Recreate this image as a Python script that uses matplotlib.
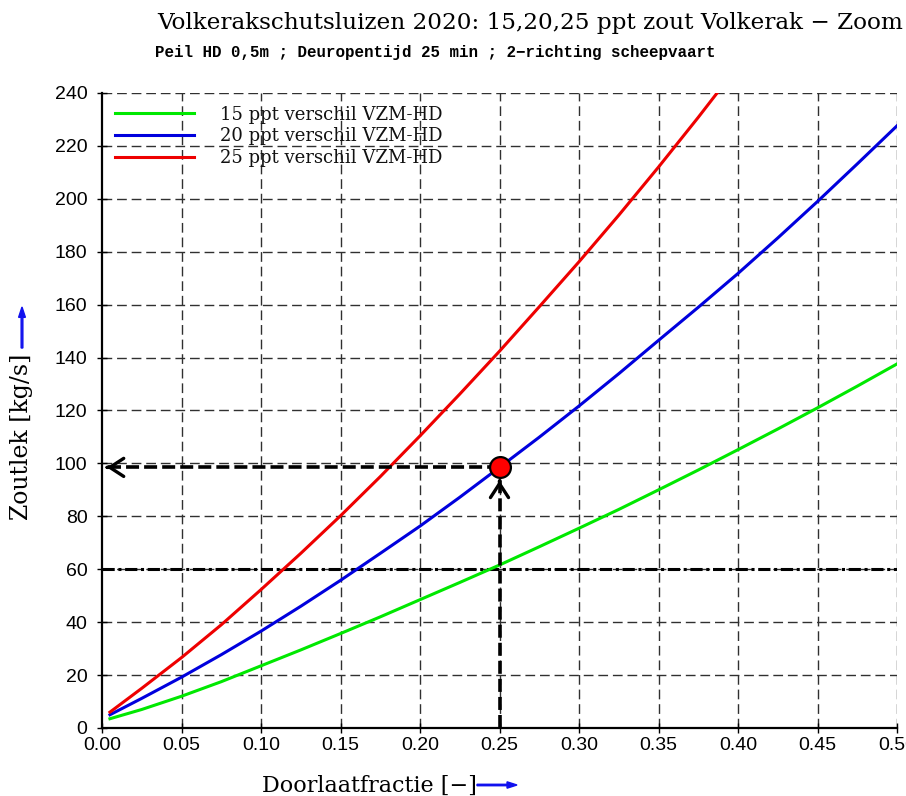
import matplotlib
matplotlib.use("Agg")
import matplotlib.pyplot as plt
from matplotlib.patches import FancyArrow

# Doorlaatfractie samples and salt leakage per salinity difference
fractie = [0.005, 0.025, 0.05, 0.075, 0.10, 0.125, 0.15, 0.175, 0.20, 0.225,
           0.25, 0.275, 0.30, 0.325, 0.35, 0.375, 0.40, 0.425, 0.45, 0.475, 0.50]
lek_15 = [3.5, 7.0, 12.0, 17.5, 23.5, 29.5, 35.7, 42.0, 48.5, 55.0,
          61.6, 68.5, 75.5, 82.6, 90.0, 97.5, 105.2, 113.0, 121.0, 129.2, 137.6]
lek_20 = [5.0, 11.2, 19.2, 27.7, 36.6, 46.0, 55.8, 66.0, 76.3, 87.2,
          98.5, 109.9, 121.7, 133.9, 146.5, 159.0, 171.8, 185.2, 199.0, 213.2, 227.6]
lek_25 = [6.0, 15.0, 26.6, 39.0, 52.3, 66.0, 80.2, 95.0, 110.4, 126.2,
          142.4, 159.2, 176.2, 193.8, 212.0, 230.8, 250.2]
series_labels = ["15 ppt verschil VZM-HD", "20 ppt verschil VZM-HD", "25 ppt verschil VZM-HD"]
series_colors = ["#00e800", "#0000dd", "#ee0000"]

# Working point and norm line
punt_x, punt_y = 0.25, 98.5
norm_lek = 60

x_ticks = [0.00, 0.05, 0.10, 0.15, 0.20, 0.25, 0.30, 0.35, 0.40, 0.45, 0.50]
y_ticks = [0, 20, 40, 60, 80, 100, 120, 140, 160, 180, 200, 220, 240]

title = "Volkerakschutsluizen 2020: 15,20,25 ppt zout Volkerak \u2212 Zoom"
subtitle = "Peil HD 0,5m ; Deuropentijd 25 min ; 2\u2212richting scheepvaart"

serif = "DejaVu Serif"
tick_font = dict(family="Liberation Sans", size=14)

fig = plt.figure(figsize=(9.06, 7.96), dpi=100)
ax = fig.add_axes([102 / 906, 1 - 728 / 796, 795 / 906, 635 / 796])

ax.set_xlim(0, 0.5)
ax.set_ylim(0, 240)

# dashed grid, also forming the top and right frame
grid_style = dict(color="#303030", lw=1.0, linestyle=(0, (7, 3.5)), zorder=1)
for xv in x_ticks[1:]:
    ax.axvline(xv, **grid_style)
for yv in y_ticks[1:]:
    ax.axhline(yv, **grid_style)

for vals, lab, col in zip([lek_15, lek_20, lek_25], series_labels, series_colors):
    ax.plot(fractie[:len(vals)], vals, color=col, lw=2.2, label=lab, zorder=4)

# norm line at 60 kg/s
ax.axhline(norm_lek, color="black", lw=2.2, linestyle=(0, (4, 1.2, 1, 1.2)), zorder=3)

# read-off lines from the working point
dash_bold = dict(color="black", lw=2.6, linestyle=(0, (3.6, 1.4)), zorder=5)
ax.plot([0.004, punt_x], [punt_y, punt_y], **dash_bold)
ax.plot([punt_x, punt_x], [0, punt_y], **dash_bold)
head = dict(arrowstyle="->,head_length=1.0,head_width=0.65", color="black", lw=2.4,
            shrinkA=0, shrinkB=0)
ax.annotate("", xy=(0.003, punt_y), xytext=(0.0035, punt_y), arrowprops=head, zorder=6)
ax.annotate("", xy=(punt_x, punt_y - 5), xytext=(punt_x, punt_y - 5.3), arrowprops=head,
            zorder=6)
ax.plot([punt_x], [punt_y], marker="o", ms=15, mfc="#ff0000", mec="black", mew=1.6,
        zorder=7, clip_on=False)

for side in ["top", "right"]:
    ax.spines[side].set_visible(False)
for side in ["left", "bottom"]:
    ax.spines[side].set_linewidth(1.6)
    ax.spines[side].set_zorder(8)

ax.set_xticks(x_ticks)
ax.set_xticklabels([f"{v:.2f}" for v in x_ticks], fontdict=tick_font)
ax.set_yticks(y_ticks)
ax.set_yticklabels([str(v) for v in y_ticks], fontdict=tick_font)
ax.tick_params(axis="both", direction="inout", length=7, width=1.0)
ax.tick_params(axis="y", pad=7)
ax.tick_params(axis="x", pad=3)

leg = ax.legend(loc="upper left", frameon=False, handlelength=4.4,
                handletextpad=1.45, labelspacing=0.2, borderaxespad=0.3,
                prop=dict(family=serif, size=13.0))
for t in leg.get_texts():
    t.set_color("#111111")

fig.text(157 / 906, 1 - 23 / 796, title, family=serif, fontsize=16.7, va="center",
         ha="left")
fig.text(155 / 906, 1 - 53 / 796, subtitle, family="Liberation Mono",
         fontweight="bold", fontsize=11.4, va="center", ha="left")

# axis titles with blue arrows
fig.text(262 / 906, 1 - 786 / 796, "Doorlaatfractie [\u2212]", family=serif,
         fontsize=16, va="center", ha="left")
fig.patches.append(FancyArrow(
    477 / 906, 1 - 785 / 796, 40 / 906, 0, width=0.0018, head_width=0.008,
    head_length=0.011, length_includes_head=True, color="#1010ee",
    transform=fig.transFigure, figure=fig))
fig.text(22 / 906, 1 - 437 / 796, "Zoutlek [kg/s]", family=serif, fontsize=17,
         va="center", ha="center", rotation=90)
fig.patches.append(FancyArrow(
    22 / 906, 1 - 348 / 796, 0, 41 / 796, width=0.0019, head_width=0.0075,
    head_length=0.013, length_includes_head=True,
    color="#1010ee", transform=fig.transFigure, figure=fig))

fig.savefig("out.png", dpi=100)
